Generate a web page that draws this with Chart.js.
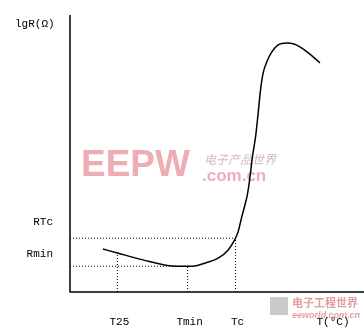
<!DOCTYPE html>
<html>
<head>
<meta charset="utf-8">
<script src="https://cdn.jsdelivr.net/npm/chart.js@4/dist/chart.umd.min.js"></script>
<style>
  html, body { margin: 0; padding: 0; background: #fff; }
  #box { width: 364px; height: 331px; position: relative; }
</style>
</head>
<body>
<div id="box"><canvas id="rt-chart"></canvas></div>
<script>
// PTC curve, lgR against T (arbitrary units)
var curveT   = [11.2, 16.1, 24.8, 33.9, 39.9, 43.0, 45.8, 50.4, 53.8, 56.0, 57.2, 58.3, 59.5, 60.3, 61.2, 62.0, 62.7, 63.2, 64.0, 64.8, 65.7, 66.9, 68.6, 70.8, 73.8, 76.2, 78.2, 81.6, 85.0];
var curveLgR = [15.5, 14.1, 11.6, 9.5, 9.3, 9.5, 10.4, 12.2, 15.2, 18.8, 21.8, 26.6, 31.4, 35.0, 41.2, 48.4, 53.1, 56.7, 64.6, 72.9, 79.1, 83.0, 86.6, 89.2, 89.9, 89.5, 88.5, 85.9, 82.7];

// marked temperatures and resistances
var markNames = ['T25', 'Tmin', 'Tc'];
var markT     = [16.1, 40.0, 56.3];
var markR     = [14.1, 9.3, 19.4];
var levelNames = ['RTc', 'Rmin'];
var levelR     = [19.4, 9.3];
var levelEndT  = [56.3, 40.0];

var pts = curveT.map(function(t, i){ return {x: t, y: curveLgR[i]}; });

var dotted = { borderColor: '#000', borderWidth: 1, borderDash: [1, 2], pointRadius: 0, fill: false, tension: 0 };
var sets = [{
  data: pts, borderColor: '#000', borderWidth: 1.5, pointRadius: 0, cubicInterpolationMode: 'monotone', fill: false
}];
markT.forEach(function(t, i){
  sets.push(Object.assign({ data: [{x: t, y: 0}, {x: t, y: markR[i]}] }, dotted));
});
levelR.forEach(function(r, i){
  sets.push(Object.assign({ data: [{x: 0, y: r}, {x: levelEndT[i], y: r}] }, dotted));
});

var textPlugin = {
  id: 'texts',
  beforeDatasetsDraw: function(chart){
    var c = chart.ctx;
    c.save();
    // watermark
    c.textAlign = 'left'; c.textBaseline = 'alphabetic';
    c.fillStyle = 'rgba(224,120,130,0.6)';
    c.font = 'bold 37px "Liberation Sans"';
    c.fillText('EEPW', 81, 176);
    c.font = 'bold 17px "Liberation Sans"';
    c.fillText('.com.cn', 202, 181);
    c.fillStyle = 'rgba(170,130,140,0.55)';
    c.font = 'italic 12px "Noto Sans CJK SC"';
    c.fillText('电子产品世界', 204, 164);
    // corner logo
    c.fillStyle = 'rgba(150,150,150,0.5)';
    c.fillRect(270, 297, 18, 18);
    c.fillStyle = 'rgba(200,60,60,0.5)';
    c.font = 'bold 11px "Noto Sans CJK SC"';
    c.fillText('电子工程世界', 292, 307);
    c.font = 'italic bold 9px "Liberation Sans"';
    c.fillText('eeworld.com.cn', 292, 318);
    c.restore();
  },
  afterDatasetsDraw: function(chart){
    var c = chart.ctx, a = chart.chartArea;
    var xs = chart.scales.x, ys = chart.scales.y;
    c.save();
    c.strokeStyle = '#000'; c.lineWidth = 1.5;
    c.beginPath();
    c.moveTo(a.left, a.top); c.lineTo(a.left, a.bottom); c.lineTo(a.right, a.bottom);
    c.stroke();
    c.fillStyle = '#000';
    c.font = '11px "Liberation Mono"';
    c.textBaseline = 'alphabetic';
    c.textAlign = 'left';
    c.fillText('lgR(\u03a9)', 15, 27);
    c.textAlign = 'right';
    var off = [-13, -9];
    levelNames.forEach(function(n, i){
      c.fillText(n, 53, ys.getPixelForValue(levelR[i]) + off[i]);
    });
    c.textAlign = 'center';
    markNames.forEach(function(n, i){
      c.fillText(n, xs.getPixelForValue(markT[i]) + 2, a.bottom + 33);
    });
    c.fillText('T(\u00b0C)', 333, a.bottom + 33);
    c.restore();
  }
};

new Chart(document.getElementById('rt-chart'), {
  type: 'line',
  data: { datasets: sets },
  options: {
    responsive: true,
    maintainAspectRatio: false,
    animation: false,
    layout: { padding: { left: 70, top: 15, right: 0, bottom: 39 } },
    plugins: { legend: { display: false }, tooltip: { enabled: false } },
    scales: {
      x: { type: 'linear', min: 0, max: 100, display: false },
      y: { type: 'linear', min: 0, max: 100, display: false }
    }
  },
  plugins: [textPlugin]
});
</script>
</body>
</html>
